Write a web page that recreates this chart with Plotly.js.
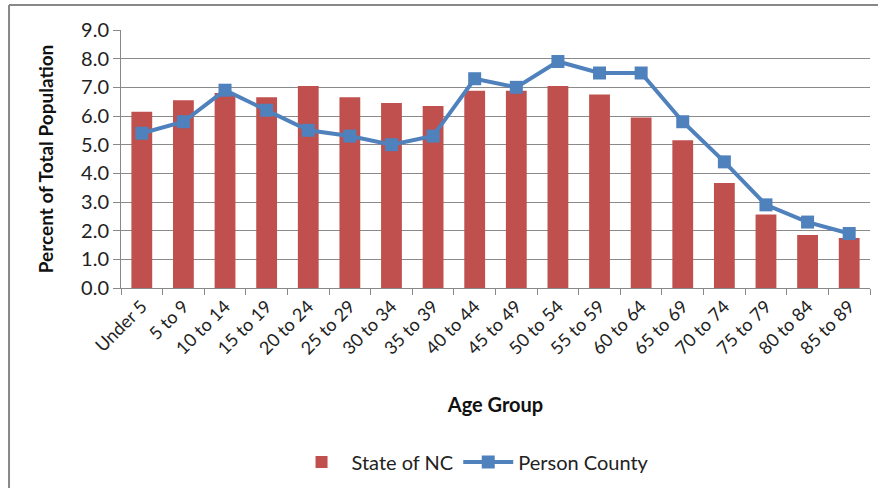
<!DOCTYPE html>
<html><head><meta charset="utf-8">
<script src="https://cdn.plot.ly/plotly-3.0.1.min.js"></script>
<style>html,body{margin:0;padding:0;background:#fff}#chart{width:878px;height:488px}</style>
</head><body><div id="chart"></div>
<script>
const ageGroups = ["Under 5","5 to 9","10 to 14","15 to 19","20 to 24","25 to 29","30 to 34","35 to 39","40 to 44","45 to 49","50 to 54","55 to 59","60 to 64","65 to 69","70 to 74","75 to 79","80 to 84","85 to 89"];
const stateNC = [6.15,6.55,6.8,6.65,7.05,6.65,6.45,6.35,6.88,6.88,7.05,6.75,5.95,5.15,3.66,2.56,1.85,1.74];
const personCounty = [5.4,5.8,6.9,6.2,5.5,5.3,5.0,5.3,7.3,7.0,7.9,7.5,7.5,5.8,4.4,2.9,2.3,1.9];
const yTicks = [0,1,2,3,4,5,6,7,8,9];

const font = "Lato, 'Open Sans', sans-serif";
const traces = [
  {type:'bar', x:ageGroups, y:stateNC, name:'State of NC', marker:{color:'#C0504D'}},
  {type:'scatter', mode:'lines+markers', x:ageGroups, y:personCounty, name:'Person County',
   line:{color:'#4F81BD', width:4}, marker:{symbol:'square', size:13, color:'#4F81BD'}}
];
const layout = {
  width:878, height:488,
  margin:{l:121, r:8, t:30, b:199},
  paper_bgcolor:'#fff', plot_bgcolor:'#fff',
  bargap:0.5,
  showlegend:true,
  legend:{orientation:'h', x:0.47, xanchor:'center', y:-0.668, yanchor:'middle',
          font:{family:font, size:20, color:'#222'}, traceorder:'normal', itemwidth:50},
  xaxis:{type:'category', range:[-0.5, ageGroups.length-0.5], automargin:false, tickangle:-45, tickson:'boundaries', ticks:'outside', ticklen:6,
         tickcolor:'#888', showline:true, linecolor:'#888', showgrid:false,
         tickfont:{family:font, size:18, color:'#222'},
         title:{text:'<b>Age Group</b>', font:{family:font, size:20, color:'#111'}, standoff:40}},
  yaxis:{range:[0,9], automargin:false, tickvals:yTicks, tickformat:'.1f', ticks:'outside', ticklen:7,
         tickcolor:'#888', showline:true, linecolor:'#888', showgrid:true, gridcolor:'#8a8a8a',
         zeroline:false, tickfont:{family:font, size:20, color:'#222'},
         title:{text:'<b>Percent of Total Population</b>', font:{family:font, size:19, color:'#111'}, standoff:22}},
  shapes:[
    {type:'line', xref:'paper', yref:'paper', x0:-0.1495, x1:1.02, y0:1.0965, y1:1.0965, line:{color:'#888', width:2}},
    {type:'line', xref:'paper', yref:'paper', x0:-0.1495, x1:-0.1495, y0:1.0965, y1:-0.8, line:{color:'#888', width:2}}
  ]
};
Plotly.newPlot('chart', traces, layout, {displayModeBar:false, staticPlot:true});
</script></body></html>
